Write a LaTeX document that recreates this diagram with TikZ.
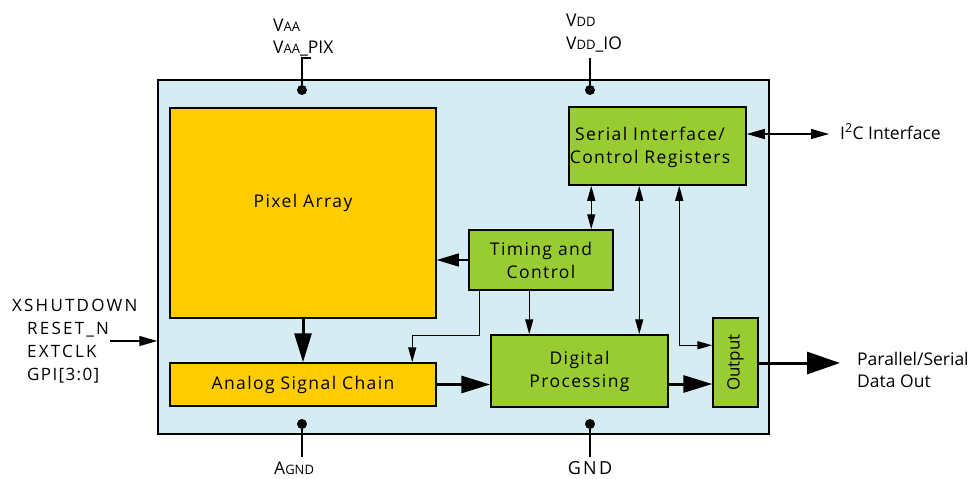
\documentclass[tikz,border=0pt]{standalone}
\usepackage{fontspec}
\setmainfont{Open Sans}
\newfontfamily\spc[LetterSpace=8]{Open Sans}
\newfontfamily\spcw[LetterSpace=13]{Open Sans}
\usetikzlibrary{arrows.meta}
\definecolor{cBg}{HTML}{D5ECF3}
\definecolor{cOr}{HTML}{FFCC00}
\definecolor{cGr}{HTML}{99CC33}
\tikzset{
  blk/.style={draw, line width=1.5pt, align=center, inner sep=0pt, font=\spc\fontsize{17.5}{23}\selectfont},
  orblk/.style={blk, fill=cOr},
  grblk/.style={blk, fill=cGr},
  txt/.style={inner sep=0pt, align=center, font=\spc\fontsize{17.5}{23}\selectfont},
  arr/.style={line width=1.4pt, -{Triangle[length=15pt,width=8pt]}},
  marr/.style={line width=1.4pt, -{Triangle[length=18pt,width=10pt]}},
  barr/.style={line width=1.4pt, {Triangle[length=15pt,width=8pt]}-{Triangle[length=15pt,width=8pt]}},
  mbarr/.style={line width=1.4pt, {Triangle[length=18pt,width=10pt]}-{Triangle[length=18pt,width=10pt]}},
  tarr/.style={line width=3pt, -{Triangle[length=29pt,width=17pt]}},
  dot/.style={circle, fill=black, inner sep=0pt, minimum size=10pt},
  lbl/.style={inner sep=0pt, anchor=base west, font=\spcw\fontsize{17}{23}\selectfont},
  plbl/.style={inner sep=0pt, anchor=base west, font=\fontsize{17.5}{22}\selectfont},
  pwr/.style={line width=1.6pt},
}
\newcommand{\sm}[1]{{\fontsize{13}{12}\selectfont #1}}
\begin{document}
\begin{tikzpicture}[x=1pt,y=-1pt]
\useasboundingbox (0,0) rectangle (969,479);
% outer chip
\node[draw, line width=1.5pt, fill=cBg, minimum width=611pt, minimum height=354pt, inner sep=0pt] (chip) at (463.5,257) {};
% blocks
\node[orblk, minimum width=266pt, minimum height=210pt] (pix) at (303,213) {};
\node[txt] (pixtxt) at (303,203) {Pixel Array};
\node[orblk, minimum width=266pt, minimum height=43pt] (ana) at (303,384.5) {Analog Signal Chain};
\node[grblk, minimum width=144pt, minimum height=60pt] (tim) at (541,260) {Timing and\\Control};
\node[grblk, minimum width=177pt, minimum height=78pt] (ser) at (657.5,146) {};
\node[txt] (sertxt) at (650,147) {Serial Interface/\\Control Registers};
\node[grblk, minimum width=177pt, minimum height=72pt] (dig) at (579.5,371) {Digital\\Processing};
\node[grblk, minimum width=45pt, minimum height=89pt] (out) at (735.5,362.5) {};
\node[rotate=90, inner sep=0pt, font=\fontsize{17}{18}\selectfont] (outtxt) at (out.center) {Output};
% internal connectors
\draw[tarr] (pix.south) -- (ana.north);
\draw[line width=1.4pt, -{Triangle[length=22pt,width=13pt]}] (tim.west) -- (tim.west -| pix.east);
\draw[arr] ([xshift=11pt]tim.south west) -- ++(0,45) -| ([xshift=243pt]ana.north west);
\draw[arr] ([xshift=61pt]tim.south west) -- ([xshift=61pt]tim.south west |- dig.north);
\draw[barr] ([xshift=23pt]ser.south west) -- ([xshift=23pt]ser.south west |- tim.north);
\draw[barr] ([xshift=71pt]ser.south west) -- ([xshift=71pt]ser.south west |- dig.north);
\draw[barr] ([xshift=111pt]ser.south west) |- ([yshift=-28pt]out.north west);
\draw[tarr] (ana.east) -- (ana.east -| dig.west);
\draw[tarr] ([yshift=-13pt]dig.east) -- ([yshift=-13pt]dig.east -| out.west);
% outputs
\coordinate (dout) at (840,363);
\draw[line width=3pt, -{Triangle[length=33pt,width=22pt]}] (out.east |- dout) -- (dout);
\node[plbl] (doutl1) at (857,365) {Parallel/Serial};
\node[plbl] (doutl2) at (857,387) {Data Out};
\coordinate (i2c) at (829,134);
\draw[mbarr] ([yshift=12pt]ser.east) -- (i2c);
\node[plbl] (i2cl) at (840,139) {I\textsuperscript{2}C Interface};
% inputs
\coordinate (inp) at (110,341);
\draw[marr] (inp) -- (inp -| chip.west);
\node[lbl] (in1) at (12,311) {XSHUTDOWN};
\node[lbl] (in2) at (27,334) {RESET\_N};
\node[lbl] (in3) at (27,357) {EXTCLK};
\node[lbl, font=\spc\fontsize{17}{23}\selectfont] (in4) at (27,380) {GPI[3:0]};
% power pins
\node[dot] (vaa) at (302,90) {};
\node[dot] (vdd) at (590,90) {};
\node[dot] (agnd) at (302,424) {};
\node[dot] (gnd) at (590,424) {};
\coordinate (vaat) at (302,58);
\coordinate (vddt) at (590,58);
\coordinate (agndt) at (302,457);
\coordinate (gndt) at (590,457);
\draw[pwr] (vaa) -- (vaat) -- ++(9,0);
\draw[pwr] (vdd) -- (vddt);
\draw[pwr] (agnd) -- (agndt);
\draw[pwr] (gnd) -- (gndt);
\node[plbl] (vaal1) at (273,31) {V\sm{AA}};
\node[plbl] (vaal2) at (273,53) {V\sm{AA}\_PIX};
\node[plbl] (vddl1) at (566,27) {V\sm{DD}};
\node[plbl] (vddl2) at (566,49) {V\sm{DD}\_IO};
\node[plbl] (agndl) at (274,474) {A\sm{GND}};
\node[lbl, anchor=base, font=\spcw\fontsize{18}{23}\selectfont] (gndl) at (590,474) {GND};
\end{tikzpicture}
\end{document}
